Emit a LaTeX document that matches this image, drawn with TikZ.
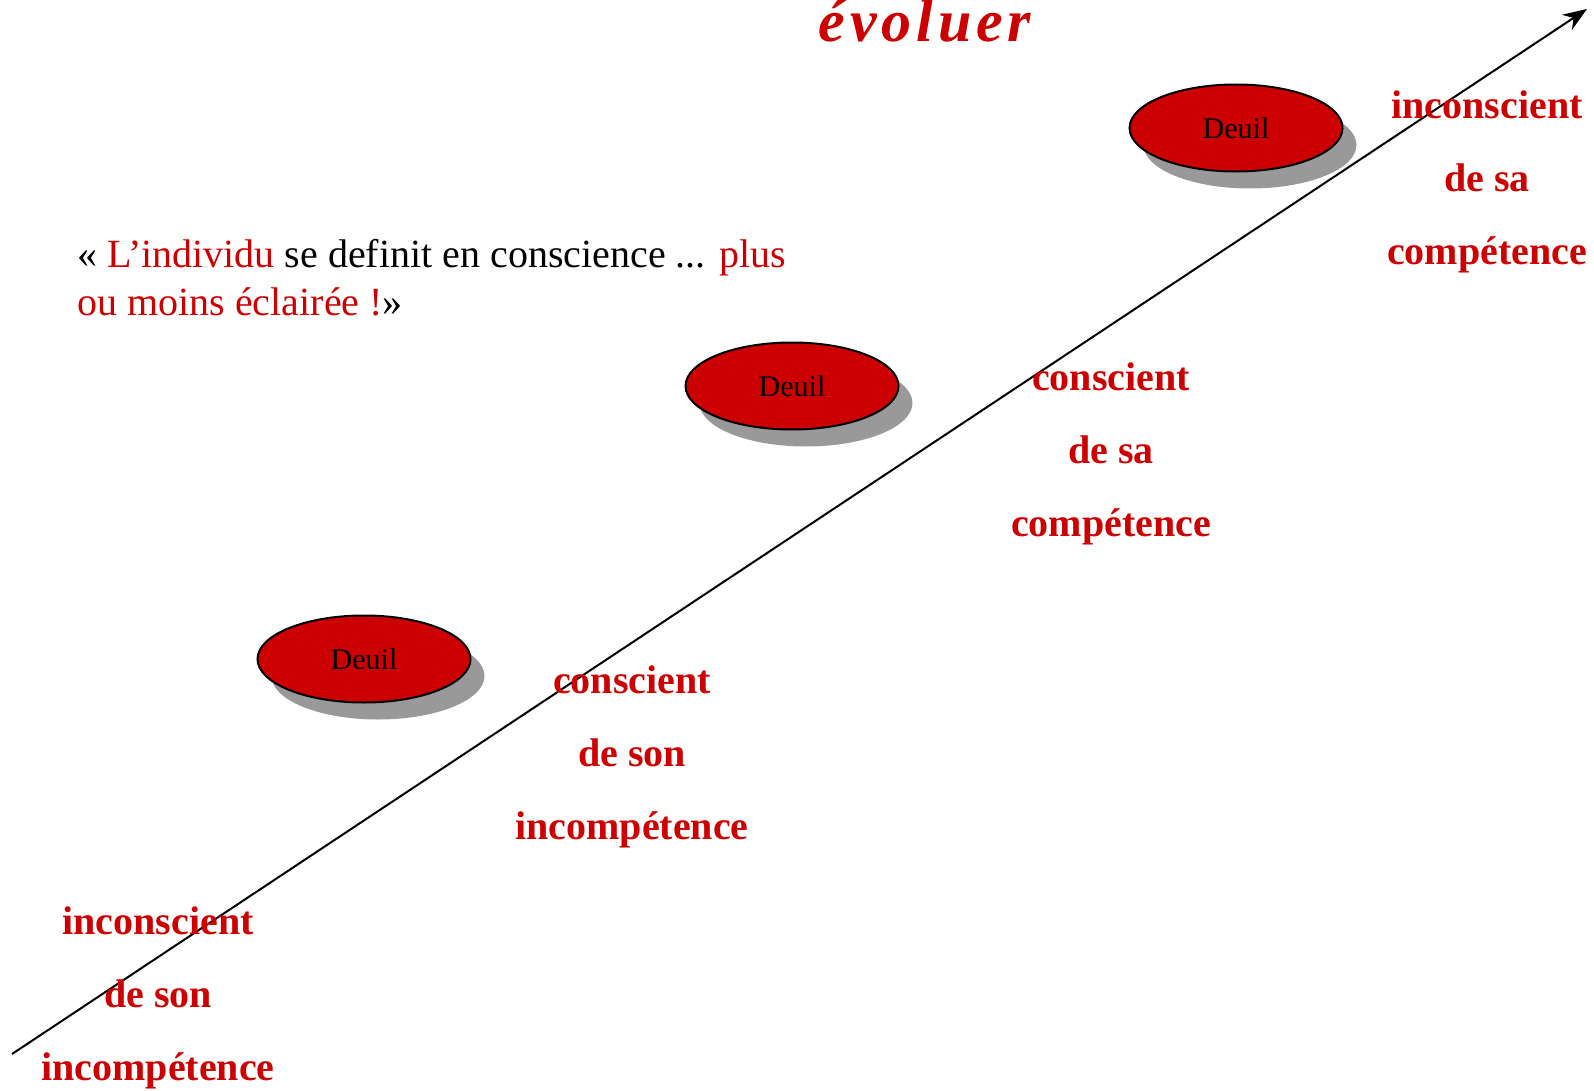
\documentclass[tikz,border=0pt]{standalone}
\usepackage{fontspec}
\setmainfont{Liberation Serif}
\usetikzlibrary{arrows.meta,shapes.geometric,shadows}
\definecolor{rougeevol}{HTML}{CC0000}
\definecolor{ombre}{HTML}{999999}
\begin{document}
\begin{tikzpicture}[x=0.5pt,y=-0.5pt,
    deuil/.style={ellipse, draw=black, line width=1pt, fill=rougeevol,
      minimum width=106.5pt, minimum height=43.5pt, inner sep=0pt,
      font=\fontsize{15}{17}\selectfont,
      drop shadow={shadow xshift=7pt, shadow yshift=-8.5pt, fill=ombre, opacity=1}},
    etape/.style={text=rougeevol, align=center,
      font=\fontsize{20}{36.4}\selectfont\bfseries}]
        % Fix the page size (pixels of the reference)
        \useasboundingbox (0,0) rectangle (1594,1091);

        % The long arrow
        \coordinate (debut) at (12,1054);
        \coordinate (fin) at (1587,9);
        \draw[line width=1pt, -{Stealth[length=12pt,width=9pt]}] (debut) -- (fin);

        % Title
        \node[text=rougeevol, font=\fontsize{30}{34}\selectfont\bfseries\itshape,
          anchor=base, inner sep=0pt] (titre) at (925,42)
          {\addfontfeature{LetterSpace=8}évoluer};

        % Quote
        \node[anchor=north west, align=left, inner sep=0pt,
          font=\fontsize{20}{24}\selectfont] (citation) at (77,239)
          {« \textcolor{rougeevol}{L’individu} se definit en conscience ... \textcolor{rougeevol}{plus}\\
           \textcolor{rougeevol}{ou moins éclairée !}»};

        % The three Deuil ellipses
        \node[deuil] (deuilA) at (364,659) {Deuil};
        \node[deuil] (deuilB) at (792,386) {Deuil};
        \node[deuil] (deuilC) at (1236,128) {Deuil};

        % The four steps
        \node[etape] (etapeA) at (158,998) {inconscient\\de son\\incompétence};
        \node[etape] (etapeB) at (632,757) {conscient\\de son\\incompétence};
        \node[etape] (etapeC) at (1111,454) {conscient\\de sa\\compétence};
        \node[etape] (etapeD) at (1487,182) {inconscient\\de sa\\compétence};
    \end{tikzpicture}
\end{document}
